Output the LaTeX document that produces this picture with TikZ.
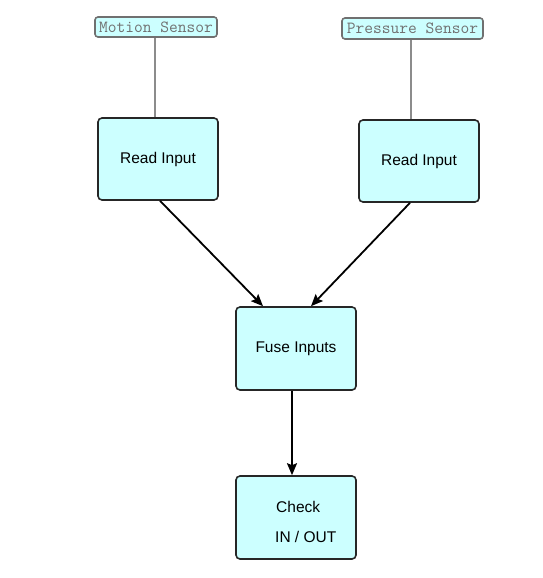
\documentclass[tikz,border=0pt]{standalone}
\usepackage{fontspec}
\setmainfont{Liberation Sans}
\usetikzlibrary{arrows.meta,calc}
\definecolor{boxfill}{HTML}{CCFFFF}
\definecolor{sensgray}{HTML}{707070}
\definecolor{sensline}{HTML}{8C8C8C}
\tikzset{
  procbox/.style={draw=black!85, line width=1.6pt, fill=boxfill, rounded corners=4pt,
    minimum width=120pt, minimum height=82pt, inner sep=0pt,
    font=\fontsize{15.5}{18}\selectfont},
  sensbox/.style={draw=sensgray, line width=1.6pt, fill=boxfill, rounded corners=3pt,
    minimum height=20pt, inner sep=0pt, text=sensgray,
    font=\ttfamily\fontsize{17}{19}\selectfont},
  sensconn/.style={draw=sensline, line width=1.8pt},
  flow/.style={draw=black, line width=1.8pt, -{Stealth[length=12pt,width=10pt,inset=2pt]}}
}
\begin{document}
\begin{tikzpicture}[x=1pt,y=-1pt]
\useasboundingbox (0,0) rectangle (542,578);
\node[sensbox, minimum width=122pt] (ms) at (156,27) {Motion Sensor};
\node[sensbox, minimum width=141pt, minimum height=21pt] (ps) at (412.5,28.5) {Pressure Sensor};
\node[procbox] (r1) at (158,159) {Read Input};
\node[procbox] (r2) at (419,161) {Read Input};
\node[procbox, minimum height=83pt] (fu) at (296,348.5) {Fuse Inputs};
\node[procbox, minimum height=83pt] (ck) at (296,517.5) {};
\node[anchor=west, font=\fontsize{15.5}{18}\selectfont, inner sep=0pt] (ckt1) at (276,507) {Check};
\node[anchor=west, font=\fontsize{15.5}{18}\selectfont, inner sep=0pt] (ckt2) at (275,537) {IN / OUT};
\coordinate (msb) at ($(ms.south)+(-1,0)$);
\coordinate (psb) at ($(ps.south)+(-1.5,0)$);
\draw[sensconn] (msb) -- (msb |- r1.north);
\draw[sensconn] (psb) -- (psb |- r2.north);
\draw[flow] ($(r1.south)+(2,0)$) -- ($(fu.north)+(-33,0)$);
\draw[flow] ($(r2.south)+(-9,0)$) -- ($(fu.north)+(15,0)$);
\draw[flow] ($(fu.south)+(-4,0)$) -- ($(ck.north)+(-4,0)$);
\end{tikzpicture}
\end{document}
